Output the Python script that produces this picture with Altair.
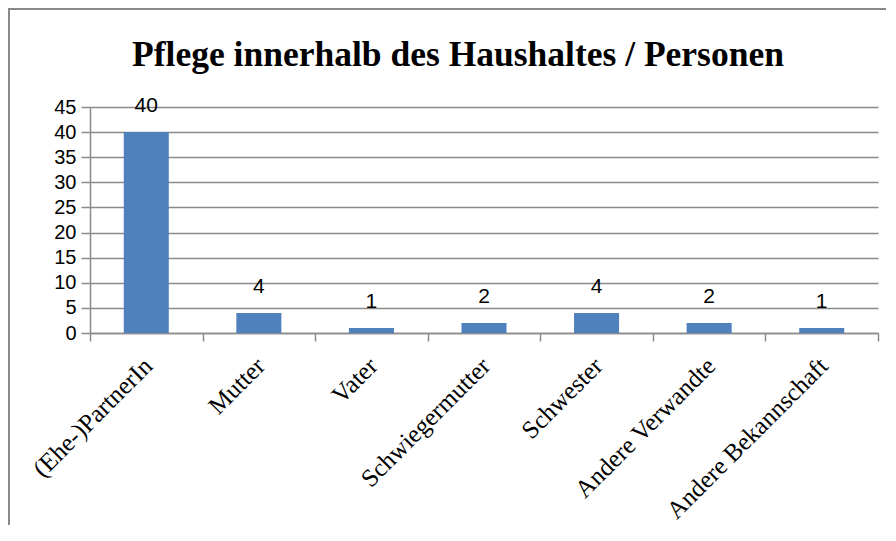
import altair as alt
import pandas as pd

categories = ["(Ehe-)PartnerIn", "Mutter", "Vater", "Schwiegermutter", "Schwester", "Andere Verwandte", "Andere Bekannschaft"]
values = [40, 4, 1, 2, 4, 2, 1]
y_ticks = [0, 5, 10, 15, 20, 25, 30, 35, 40, 45]
title_text = "Pflege innerhalb des Haushaltes / Personen"

df = pd.DataFrame({"Kategorie": categories, "Personen": values})

GRID = "#8a8a8a"
W, H = 788, 226

x_enc = alt.X("Kategorie:N", sort=categories, title=None,
              scale=alt.Scale(paddingInner=0, paddingOuter=0),
              axis=alt.Axis(labelAngle=-45, labelFont="Liberation Serif", labelFontSize=25,
                            labelColor="black", tickBand="extent", tickSize=8, tickColor=GRID,
                            tickWidth=1.5, domainColor=GRID, domainWidth=1.5, labelPadding=12,
                            labelOffset=-7, grid=False, labelLimit=400, labelOverlap=False))
y_enc = alt.Y("Personen:Q", title=None,
              scale=alt.Scale(domain=[0, 45], nice=False),
              axis=alt.Axis(values=y_ticks, labelFont="Liberation Sans", labelFontSize=20,
                            labelColor="black", tickSize=9, tickColor=GRID, tickWidth=1.5,
                            domainColor=GRID, domainWidth=1.5, gridColor=GRID, gridWidth=1.5,
                            labelPadding=5, grid=True, labelOverlap=False))

bars = alt.Chart(df).mark_bar(color="#4F81BD", width=alt.RelativeBandSize(0.4)).encode(x=x_enc, y=y_enc)

labels = alt.Chart(df).mark_text(font="Liberation Sans", fontSize=21, color="black",
                                 baseline="alphabetic", dy=-20).encode(
    x=x_enc, y=y_enc, text=alt.Text("Personen:Q"),
)

frame = alt.Chart(df).mark_rect(fill=None, stroke="#8a8a8a", strokeWidth=1.5).encode(
    x=alt.value(-81), x2=alt.value(W + 40), y=alt.value(-98), y2=alt.value(H + 400)
)

title = alt.Chart(pd.DataFrame({"t": [title_text]})).mark_text(
    font="Liberation Serif", fontSize=35.5, fontWeight="bold", color="black",
    align="center", baseline="middle"
).encode(x=alt.value(W / 2 - 26), y=alt.value(-52), text="t:N")

chart = alt.layer(frame, bars, labels, title).properties(
    width=W, height=H,
    autosize=alt.AutoSizeParams(type="none"),
    padding={"left": 82, "top": 99, "right": 8, "bottom": 192},
).configure_view(stroke=None)

chart.save("out.html", embed_options={"renderer": "svg", "actions": False})
